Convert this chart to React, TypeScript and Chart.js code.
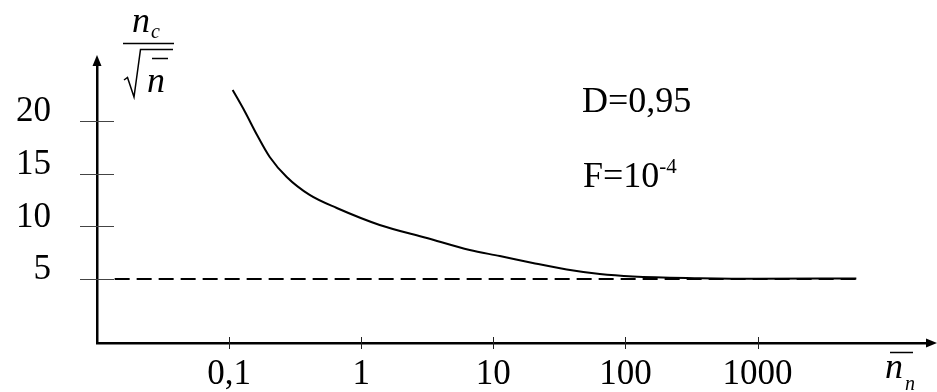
import { useEffect, useRef } from 'react';
import { Chart, registerables } from 'chart.js';

Chart.register(...registerables);

// ---- data ----
const curveX = [0.1064, 0.1315, 0.162, 0.203, 0.273, 0.407, 0.653, 1.38, 3.14, 6.63, 11.2, 19.9, 36, 64, 114, 366, 986, 5600];
const curveY = [22.94, 20.9, 18.72, 16.58, 14.68, 12.98, 11.74, 10.13, 8.89, 7.75, 7.18, 6.52, 5.9, 5.47, 5.24, 5.08, 5.02, 5.05];
const asymptoteX = [0.0136, 5600];
const asymptoteY = [5, 5];
const xTickValues = [0.1, 1, 10, 100, 1000];
const xTickLabels = ['0,1', '1', '10', '100', '1000'];
const yTickValues = [5, 10, 15, 20];
const yTickLabels = ['5', '10', '15', '20'];
const paramD = 'D=0,95';
const paramFBase = 'F=10';
const paramFExp = '-4';

const SERIF = '"Liberation Serif", "Times New Roman", serif';

const decorPlugin = {
  id: 'decor',
  afterDraw(chart: any) {
    const { ctx, chartArea } = chart;
    const xs = chart.scales.x;
    const ys = chart.scales.y;
    const { left, right, top, bottom } = chartArea;
    ctx.save();
    ctx.strokeStyle = '#000';
    ctx.fillStyle = '#000';

    // x ticks crossing the axis
    ctx.lineWidth = 1;
    ctx.strokeStyle = '#222';
    xs.ticks.forEach((t: any) => {
      const px = Math.round(xs.getPixelForValue(t.value)) + 0.5;
      ctx.beginPath();
      ctx.moveTo(px, bottom - 6);
      ctx.lineTo(px, bottom + 6);
      ctx.stroke();
    });
    // y ticks crossing the axis
    ctx.strokeStyle = '#444';
    ys.ticks.forEach((t: any) => {
      const py = Math.round(ys.getPixelForValue(t.value)) + 0.5;
      ctx.beginPath();
      ctx.moveTo(left - 17, py);
      ctx.lineTo(left + 17, py);
      ctx.stroke();
    });

    // arrows
    ctx.strokeStyle = '#000';
    ctx.lineWidth = 2.5;
    ctx.beginPath();
    ctx.moveTo(left, top);
    ctx.lineTo(left, top - 2);
    ctx.stroke();
    ctx.beginPath();
    ctx.moveTo(left, top - 7);
    ctx.lineTo(left - 4.5, top + 4);
    ctx.lineTo(left + 4.5, top + 4);
    ctx.closePath();
    ctx.fill();

    ctx.beginPath();
    ctx.moveTo(right, bottom);
    ctx.lineTo(right + 2, bottom);
    ctx.stroke();
    ctx.beginPath();
    ctx.moveTo(right + 8, bottom);
    ctx.lineTo(right - 3, bottom - 4.5);
    ctx.lineTo(right - 3, bottom + 4.5);
    ctx.closePath();
    ctx.fill();

    // y-axis title: n_c / sqrt(n̄)
    ctx.textAlign = 'left';
    ctx.textBaseline = 'alphabetic';
    ctx.font = `italic 36px ${SERIF}`;
    ctx.fillText('n', 132, 32);
    ctx.font = `italic 20px ${SERIF}`;
    ctx.fillText('c', 151, 38);
    ctx.lineWidth = 1.5;
    ctx.beginPath();
    ctx.moveTo(123, 43.5);
    ctx.lineTo(174, 43.5);
    ctx.stroke();
    ctx.beginPath();
    ctx.moveTo(124, 80);
    ctx.lineTo(127.5, 77.5);
    ctx.lineTo(134, 97);
    ctx.lineTo(140.5, 49.5);
    ctx.lineTo(173, 49.5);
    ctx.stroke();
    ctx.font = `italic 36px ${SERIF}`;
    ctx.fillText('n', 147, 92);
    ctx.beginPath();
    ctx.moveTo(152, 58.5);
    ctx.lineTo(168, 58.5);
    ctx.stroke();

    // x-axis title: n̄_n
    ctx.font = `italic 36px ${SERIF}`;
    ctx.fillText('n', 885, 378);
    ctx.font = `italic 20px ${SERIF}`;
    ctx.fillText('n', 905, 390);
    ctx.beginPath();
    ctx.moveTo(890, 352.5);
    ctx.lineTo(913, 352.5);
    ctx.stroke();

    // parameters
    ctx.font = `36px ${SERIF}`;
    ctx.fillText(paramD, 582, 112);
    ctx.fillText(paramFBase, 583, 187);
    const w = ctx.measureText(paramFBase).width;
    ctx.font = `21px ${SERIF}`;
    ctx.fillText(paramFExp, 583 + w, 173);

    ctx.restore();
  },
};

export default function App() {
  const ref = useRef<HTMLCanvasElement>(null);
  useEffect(() => {
    if (!ref.current) return;
    const chart = new Chart(ref.current, {
      type: 'line',
      data: {
        datasets: [
          {
            label: 'asymptote',
            data: asymptoteX.map((x, i) => ({ x, y: asymptoteY[i] })),
            borderColor: '#000',
            borderWidth: 2,
            borderDash: [15, 7],
            pointRadius: 0,
            fill: false,
          },
          {
            label: 'curve',
            data: curveX.map((x, i) => ({ x, y: curveY[i] })),
            borderColor: '#000',
            borderWidth: 2,
            pointRadius: 0,
            cubicInterpolationMode: 'monotone',
            fill: false,
          },
        ],
      },
      options: {
        animation: false,
        responsive: false,
        layout: { padding: { top: 62, right: 8, left: 0, bottom: 0 } },
        plugins: { legend: { display: false }, tooltip: { enabled: false } },
        scales: {
          x: {
            type: 'logarithmic',
            min: 0.01,
            max: 19870,
            afterBuildTicks: (s: any) => {
              s.ticks = xTickValues.map((v) => ({ value: v }));
            },
            afterFit: (s: any) => {
              s.height = 49;
            },
            grid: { display: true, drawOnChartArea: false, drawTicks: true, tickLength: 14, color: 'rgba(0,0,0,0)' },
            border: { display: true, color: '#000', width: 2.5 },
            ticks: {
              autoSkip: false,
              maxRotation: 0,
              padding: 0,
              color: '#000',
              font: { family: SERIF, size: 35, lineHeight: 1 },
              callback: (_v: any, i: number) => xTickLabels[i],
            },
          },
          y: {
            type: 'linear',
            min: -1.076,
            max: 25.6,
            afterBuildTicks: (s: any) => {
              s.ticks = yTickValues.map((v) => ({ value: v }));
            },
            afterFit: (s: any) => {
              s.width = 97;
            },
            grid: { display: true, drawOnChartArea: false, drawTicks: true, tickLength: 46, color: 'rgba(0,0,0,0)' },
            border: { display: true, color: '#000', width: 2.5 },
            ticks: {
              autoSkip: false,
              padding: 0,
              labelOffset: -9,
              color: '#000',
              font: { family: SERIF, size: 35, lineHeight: 1 },
              callback: (_v: any, i: number) => yTickLabels[i],
            },
          },
        },
      },
      plugins: [decorPlugin],
    });
    return () => chart.destroy();
  }, []);
  return (
    <div style={{ position: 'absolute', left: 0, top: 0, width: 937, height: 392, background: '#fff' }}>
      <canvas ref={ref} width={937} height={392} style={{ display: 'block' }} />
    </div>
  );
}
